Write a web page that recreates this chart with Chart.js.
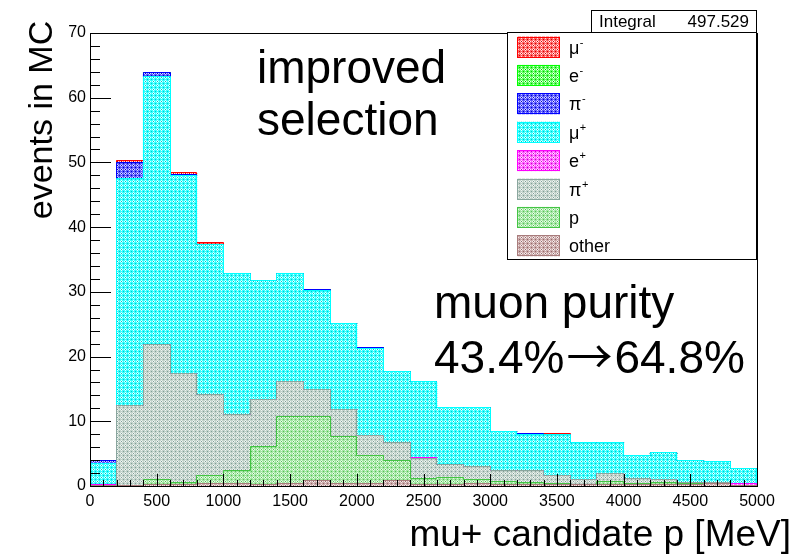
<!DOCTYPE html>
<html>
<head>
<meta charset="utf-8">
<script src="https://cdn.jsdelivr.net/npm/chart.js@4.4.1/dist/chart.umd.min.js"></script>
<style>
  html, body { margin: 0; padding: 0; background: #fff; }
</style>
</head>
<body>
<canvas id="histo" width="800" height="555"></canvas>
<script>
// bin centres, 200 MeV wide bins from 0 to 5000
const binCenters = [100, 300, 500, 700, 900, 1100, 1300, 1500, 1700, 1900, 2100, 2300, 2500,
                    2700, 2900, 3100, 3300, 3500, 3700, 3900, 4100, 4300, 4500, 4700, 4900];

// per-species contents, stacked from the bottom up
const other   = [0, 0, 0.1, 0.1, 0.3, 0.3, 0.2, 0.3, 0.8, 0.3, 0.3, 0.8, 0.2, 0.2, 0.3, 0.2, 0.2, 0.1, 0.1, 0.1, 0.1, 0.1, 0.2, 0.3, 0];
const proton  = [0, 0, 0.8, 0.3, 1.2, 2.0, 5.9, 10.3, 9.8, 7.3, 4.4, 3.0, 0.9, 1.1, 0.7, 0.4, 0.3, 0.2, 0.1, 0.5, 0.2, 0.3, 0.1, 0, 0];
const piPlus  = [0, 12.4, 20.9, 16.9, 12.6, 8.6, 7.2, 5.4, 4.2, 4.2, 3.1, 2.9, 3.0, 1.9, 1.9, 1.7, 1.8, 1.2, 0.8, 1.2, 0.8, 0.5, 0.2, 0.2, 0];
const ePlus   = [0.2, 0, 0, 0, 0, 0, 0, 0, 0, 0, 0, 0, 0.2, 0, 0, 0, 0, 0, 0, 0, 0, 0, 0, 0, 0.3];
const muPlus  = [3.2, 35.1, 41.4, 30.6, 23.2, 21.8, 18.4, 16.7, 15.3, 13.3, 13.4, 10.9, 11.7, 8.8, 9.2, 6.1, 5.6, 6.4, 5.7, 4.9, 3.5, 4.2, 3.4, 3.2, 2.3];
const piMinus = [0.4, 2.4, 0.6, 0.2, 0, 0, 0, 0, 0.2, 0, 0.2, 0, 0, 0, 0, 0, 0.15, 0, 0, 0, 0, 0, 0, 0, 0];
const eMinus  = [0, 0, 0, 0, 0, 0, 0, 0, 0, 0, 0, 0, 0, 0, 0, 0, 0, 0, 0, 0, 0, 0, 0, 0, 0];
const muMinus = [0, 0.3, 0, 0.2, 0.2, 0, 0, 0, 0, 0, 0, 0, 0, 0, 0, 0, 0, 0.15, 0, 0, 0, 0, 0, 0, 0];

const integral = '497.529';

// small dithered fill like the root hatch style
function dither(base, light, dark) {
    const c = document.createElement('canvas');
    c.width = 4; c.height = 4;
    const g = c.getContext('2d');
    g.fillStyle = base; g.fillRect(0, 0, 4, 4);
    g.fillStyle = light;
    g.fillRect(1, 0, 1, 1); g.fillRect(0, 1, 1, 1); g.fillRect(2, 1, 1, 1); g.fillRect(1, 2, 1, 1);
    g.fillStyle = dark;
    g.fillRect(1, 1, 1, 1); g.fillRect(3, 3, 1, 1);
    return g.createPattern(c, 'repeat');
}

function layer(label, values, fill, line) {
    return {
        label: label,
        data: values.map((v, i) => ({ x: binCenters[i], y: v })),
        backgroundColor: fill,
        borderColor: line,
        lineColor: line,
        borderWidth: 0,
        inflateAmount: 0.5,
        barPercentage: 1,
        categoryPercentage: 1
    };
}

const datasets = [
    layer('other', other,   dither('#cbaaaa', '#f2e8e8', '#946a6a'), '#a87c7c'),
    layer('p',     proton,  dither('#a2e6a2', '#e6f9e6', '#56c056'), '#44c444'),
    layer('π+',    piPlus,  dither('#c2d2ca', '#eef3f0', '#80a098'), '#8aa69e'),
    layer('e+',    ePlus,   dither('#ff5cff', '#ffe0ff', '#c800c8'), '#ff00ff'),
    layer('μ+',    muPlus,  dither('#34ffff', '#e0ffff', '#00c8c8'), '#00ffff'),
    layer('π-',    piMinus, dither('#5a5aff', '#d4d4ff', '#0000c0'), '#0000ff'),
    layer('e-',    eMinus,  dither('#5cff5c', '#e0ffe0', '#00c000'), '#00ff00'),
    layer('μ-',    muMinus, dither('#ff6464', '#ffe2e2', '#d00000'), '#ff0000')
];

const FONT = '"Liberation Sans", Arial, Helvetica, sans-serif';
const ARROW_FONT = '"Noto Sans CJK SC", "DejaVu Sans", sans-serif';

// step outline of each cumulative layer, topmost first so lower ones end up on top
function drawContours(chart) {
    const c = chart.ctx;
    const a = chart.chartArea;
    const snap = v => Math.round(v) - 0.5;
    c.save();
    c.lineWidth = 1;
    for (let k = chart.data.datasets.length - 1; k >= 0; k--) {
        const bars = chart.getDatasetMeta(k).data;
        c.strokeStyle = chart.data.datasets[k].lineColor;
        c.beginPath();
        bars.forEach((b, i) => {
            const left = snap(b.x - b.width / 2 + 0.5), right = snap(b.x + b.width / 2 + 0.5);
            const top = snap(b.y);
            if (i === 0) c.moveTo(left, a.bottom);
            c.lineTo(left, top);
            c.lineTo(right, top);
            if (i === bars.length - 1) c.lineTo(right, a.bottom);
        });
        c.stroke();
    }
    c.restore();
}

// frame, inner ticks, legend, stats box and text
const rootFrame = {
    id: 'rootFrame',
    afterDatasetsDraw(chart) {
        drawContours(chart);
        const c = chart.ctx;
        const a = chart.chartArea;
        const xs = chart.scales.x, ys = chart.scales.y;
        c.save();
        c.strokeStyle = '#000';
        c.lineWidth = 1;
        c.strokeRect(Math.round(a.left) + 0.5, Math.round(a.top) + 0.5,
                     Math.round(a.right - a.left), Math.round(a.bottom - a.top));
        c.beginPath();
        for (let v = 0; v <= 5000; v += 100) {
            const px = Math.round(xs.getPixelForValue(v)) + 0.5;
            const len = v % 500 === 0 ? 12 : 6;
            c.moveTo(px, a.bottom);
            c.lineTo(px, a.bottom - len);
        }
        for (let v = 0; v <= 70; v += 2) {
            const py = Math.round(ys.getPixelForValue(v)) + 0.5;
            const len = v % 10 === 0 ? 21 : 10;
            c.moveTo(a.left, py);
            c.lineTo(a.left + len, py);
        }
        c.stroke();
        c.restore();
    },
    afterDraw(chart) {
        const c = chart.ctx;
        c.save();
        c.fillStyle = '#000';
        c.strokeStyle = '#000';
        c.lineWidth = 1;

        // stats box
        c.fillStyle = '#fff';
        c.fillRect(591, 10, 166, 22);
        c.strokeRect(591.5, 10.5, 165, 22);
        c.fillStyle = '#000';
        c.font = '17px ' + FONT;
        c.textBaseline = 'alphabetic';
        c.textAlign = 'left';
        c.fillText('Integral', 599, 27);
        c.textAlign = 'right';
        c.fillText(integral, 749, 27);

        // legend
        c.fillStyle = '#fff';
        c.fillRect(507, 32, 250, 228);
        c.strokeRect(507.5, 32.5, 249, 227);
        const rows = chart.data.datasets.slice().reverse();
        rows.forEach((ds, i) => {
            const cy = 46.5 + i * 28.4;
            c.fillStyle = ds.backgroundColor;
            c.fillRect(517, cy - 10, 43, 21);
            c.strokeStyle = ds.lineColor;
            c.strokeRect(517.5, Math.round(cy - 10) + 0.5, 42, 20);
            const m = ds.label.match(/^(.*?)([+-])$/);
            const base = m ? m[1] : ds.label;
            c.fillStyle = '#000';
            c.textAlign = 'left';
            c.font = '18px ' + FONT;
            c.fillText(base, 569, cy + 7);
            if (m) {
                const w = c.measureText(base).width;
                c.font = '11px ' + FONT;
                c.fillText(m[2], 569 + w + 0.5, cy - 1);
            }
        });

        // annotations
        c.fillStyle = '#000';
        c.textAlign = 'left';
        c.font = '46px ' + FONT;
        c.fillText('improved', 257, 83);
        c.fillText('selection', 257, 135);
        c.fillText('muon purity', 434, 318);
        let x = 434;
        c.fillText('43.4%', x, 373);
        x += c.measureText('43.4%').width + 2;
        c.font = '46px ' + ARROW_FONT;
        c.fillText('\u2192', x, 373);
        x += c.measureText('\u2192').width + 2;
        c.font = '46px ' + FONT;
        c.fillText('64.8%', x, 373);

        // axis titles
        c.font = '37px ' + FONT;
        c.textAlign = 'right';
        c.fillText('mu+ candidate p [MeV]', 791, 546);
        c.save();
        c.translate(52, 120);
        c.rotate(-Math.PI / 2);
        c.textAlign = 'center';
        c.font = '34px ' + FONT;
        c.fillText('events in MC', 0, 0);
        c.restore();
        c.restore();
    }
};

const tickFont = { family: FONT, size: 16 };

new Chart(document.getElementById('histo').getContext('2d'), {
    type: 'bar',
    data: { datasets: datasets },
    options: {
        responsive: false,
        animation: false,
        layout: { padding: { top: 33, right: 43, left: 0, bottom: 0 } },
        plugins: { legend: { display: false }, tooltip: { enabled: false } },
        scales: {
            x: {
                type: 'linear', min: 0, max: 5000, offset: false, stacked: true,
                grid: { display: false, drawTicks: false },
                border: { display: false },
                ticks: { stepSize: 500, padding: 6, color: '#000', font: tickFont, maxRotation: 0, autoSkip: false,
                         callback: v => String(v) },
                afterFit: s => { s.height = 69; }
            },
            y: {
                min: 0, max: 70, stacked: true,
                grid: { display: false, drawTicks: false },
                border: { display: false },
                ticks: { stepSize: 10, padding: 4, color: '#000', font: tickFont, callback: v => String(v) },
                afterFit: s => { s.width = 90; }
            }
        }
    },
    plugins: [rootFrame]
});
</script>
</body>
</html>
